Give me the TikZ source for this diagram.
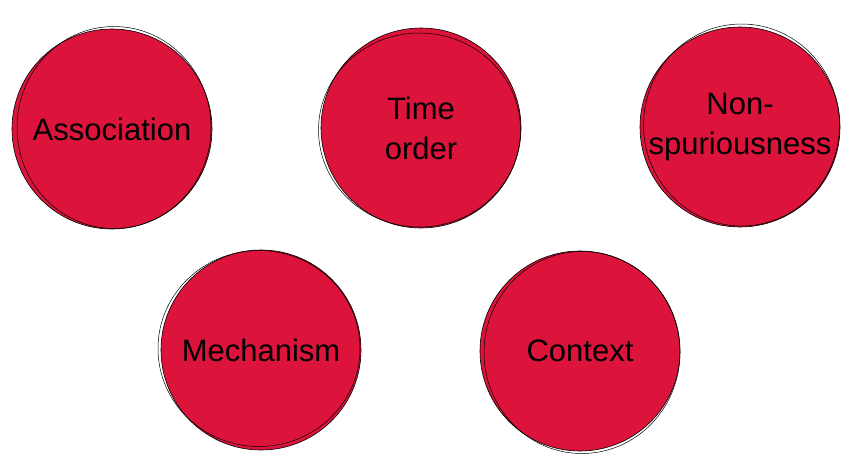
\documentclass[tikz,border=0pt]{standalone}
\usepackage{fontspec}
\setmainfont{Liberation Sans}
\definecolor{crimson}{HTML}{DC143C}
\begin{document}
\begin{tikzpicture}[x=1pt, y=1pt,
    criterion/.style={circle, fill=crimson, draw=black, line width=0.6pt, minimum size=200pt, inner sep=0pt, align=center, font=\fontsize{31}{40}\selectfont},
    trazo/.style={draw=black, line width=0.5pt}
]
\useasboundingbox (0,0) rectangle (851,-471);
\node[criterion] (assoc) at (112,-129) {Association};
\node[criterion] (timeord) at (421,-128) {Time\\order};
\node[criterion] (nonspur) at (740,-127) {Non-\\spuriousness};

\node[criterion] (mech) at (261,-350) {Mechanism};
\node[criterion] (context) at (580,-351) {Context};

% second stroke for the hand-drawn look
\draw[trazo] ([shift={(2,1.5)}]assoc.center) ellipse (97 and 101);
\draw[trazo] ([shift={(-1.5,-2)}]timeord.center) ellipse (101 and 97);
\draw[trazo] ([shift={(1.5,2)}]nonspur.center) ellipse (98 and 101);
\draw[trazo] ([shift={(-2,1.5)}]mech.center) ellipse (101 and 98);
\draw[trazo] ([shift={(2,-1.5)}]context.center) ellipse (98 and 101);
\end{tikzpicture}
\end{document}
